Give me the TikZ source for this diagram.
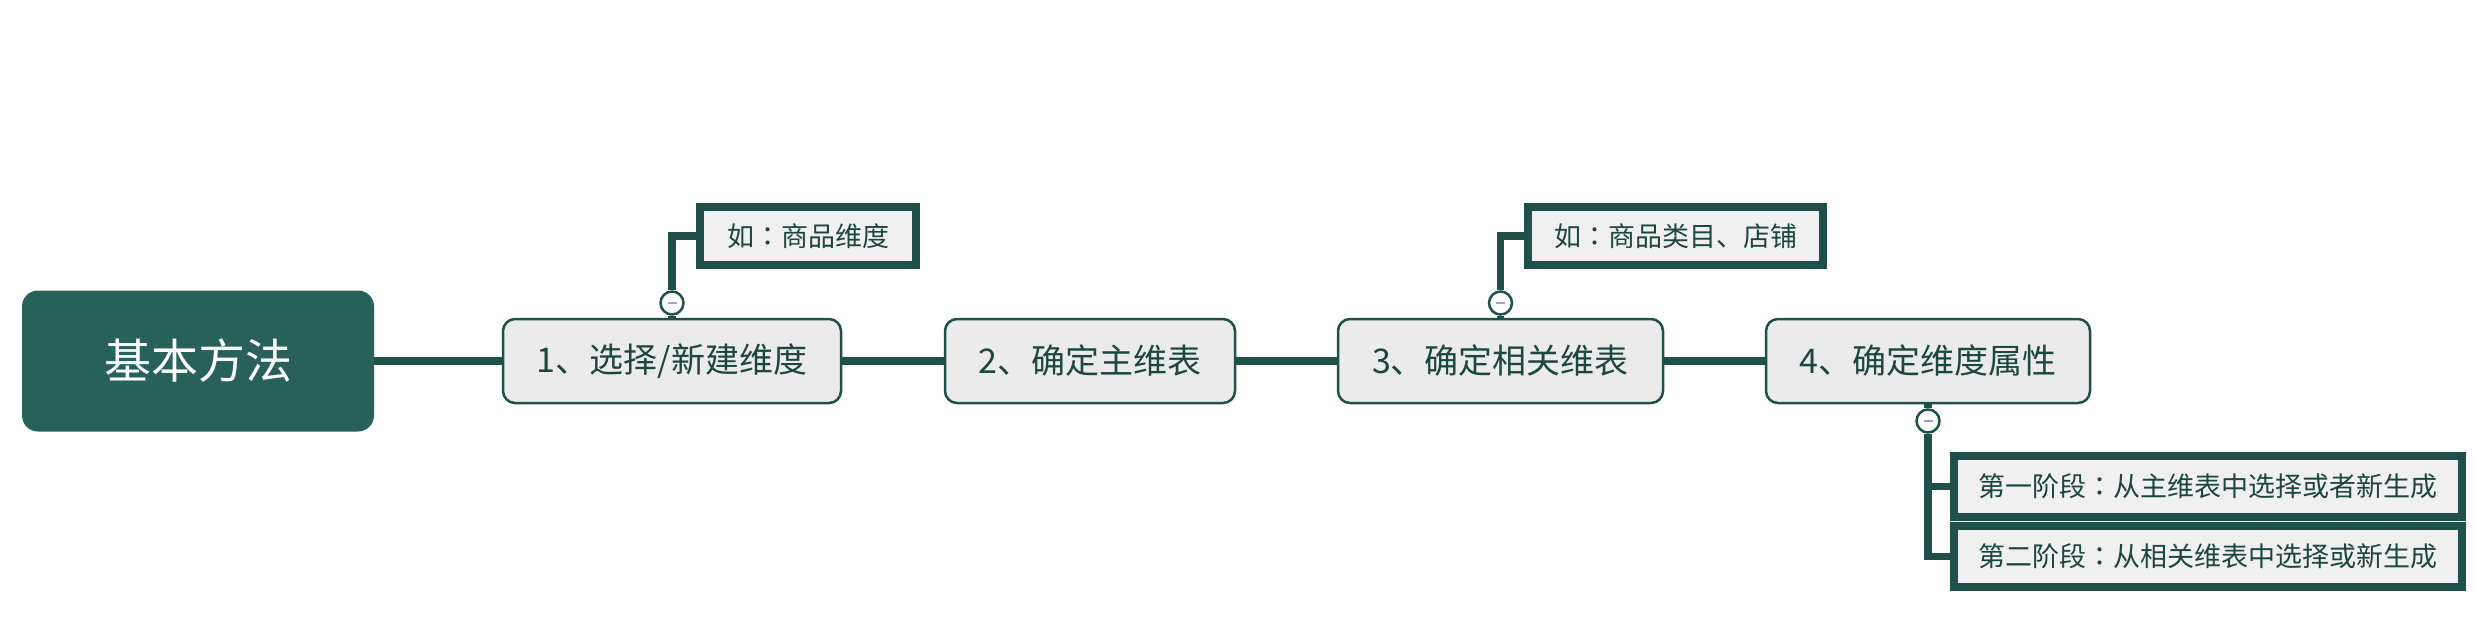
\documentclass[tikz,border=0pt]{standalone}
\usepackage{fontspec}
\setmainfont{Noto Sans CJK SC}
\newfontfamily\colonfont{Noto Sans CJK JP}
\newlength{\du}
\setlength{\du}{1pt}
\newcommand{\fwcolon}{{\colonfont ：}}
\definecolor{linegreen}{RGB}{31,80,73}
\definecolor{rootgreen}{RGB}{39,97,90}
\definecolor{textgreen}{RGB}{28,70,64}
\definecolor{stepgray}{RGB}{235,235,235}
\definecolor{notegray}{RGB}{240,240,240}
\definecolor{minuscolor}{RGB}{160,160,210}

\begin{document}
\begin{tikzpicture}[
  rootbox/.style={fill=rootgreen, text=white, rounded corners=16\du,
    minimum width=352\du, minimum height=141\du, inner sep=0pt,
    font=\fontsize{47}{50}\selectfont},
  stepbox/.style={draw=linegreen, line width=2.5\du, fill=stepgray, text=textgreen,
    rounded corners=12\du, minimum height=84\du, inner sep=0pt,
    font=\fontsize{34}{38}\selectfont},
  notebox/.style={draw=linegreen, line width=8\du, fill=notegray, text=textgreen,
    minimum height=58\du, inner sep=0pt, anchor=west,
    font=\fontsize{27}{30}\selectfont},
  foldmark/.style={circle, draw=linegreen, line width=2.5\du, fill=white,
    minimum size=23\du, inner sep=0pt},
  branch/.style={draw=linegreen, line width=7.5\du}
]
\pgftransformxscale{1.000000}
\pgftransformyscale{-1.000000}
\useasboundingbox (0\du,0\du) rectangle (2474\du,622\du);
% main nodes
\node[rootbox] (root) at (198\du,361\du){基本方法};
\node[stepbox, minimum width=338\du] (pick) at (672\du,361\du){1、选择/新建维度};
\node[stepbox, minimum width=290\du] (main) at (1090\du,361\du){2、确定主维表};
\node[stepbox, minimum width=325\du] (related) at (1500.5\du,361\du){3、确定相关维表};
\node[stepbox, minimum width=324\du] (attr) at (1928\du,361\du){4、确定维度属性};
% main line
\draw[branch] (root.east)--(pick.west);
\draw[branch] (pick.east)--(main.west);
\draw[branch] (main.east)--(related.west);
\draw[branch] (related.east)--(attr.west);
% notes
\node[notebox, minimum width=216\du] (pickex) at (696\du,236\du){如\fwcolon 商品维度};
\node[notebox, minimum width=295\du] (relatedex) at (1524\du,236\du){如\fwcolon 商品类目、店铺};
\node[notebox, minimum width=508\du, minimum height=61\du] (stageone) at (1950\du,486.5\du){第一阶段\fwcolon 从主维表中选择或者新生成};
\node[notebox, minimum width=508\du, minimum height=61\du] (stagetwo) at (1950\du,556.5\du){第二阶段\fwcolon 从相关维表中选择或新生成};
% fold marks
\node[foldmark] (pickfold) at (672\du,303\du){};
\node[foldmark] (relatedfold) at (1500.5\du,303\du){};
\node[foldmark] (attrfold) at (1928\du,421\du){};
\draw[branch] (pick.north)--(pickfold.south);
\draw[branch] (pickfold.north)|-(pickex.west);
\draw[branch] (related.north)--(relatedfold.south);
\draw[branch] (relatedfold.north)|-(relatedex.west);
\draw[branch] (attr.south)--(attrfold.north);
\draw[branch] (attrfold.south)|-(stageone.west);
\draw[branch] (attrfold.south)|-(stagetwo.west);
% minus signs
\foreach \f in {pickfold,relatedfold,attrfold}
  \draw[minuscolor, line width=2.5\du] ([xshift=-4.5\du]\f.center)--([xshift=4.5\du]\f.center);
\end{tikzpicture}
\end{document}
